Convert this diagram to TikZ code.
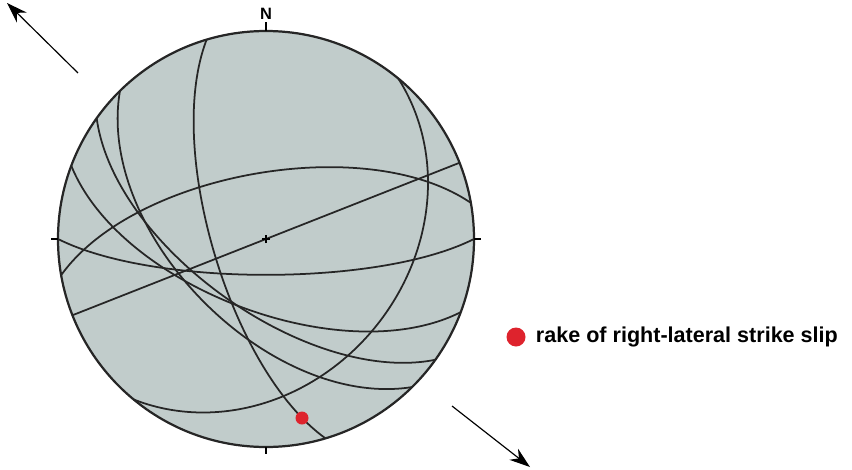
\documentclass[tikz,border=0pt]{standalone}
\usepackage{fontspec}
\setmainfont{Liberation Sans}
\usetikzlibrary{arrows.meta,positioning}
\definecolor{netgrey}{RGB}{193,204,203}
\definecolor{rakered}{RGB}{222,35,45}
\begin{document}
\begin{tikzpicture}[x=0.03cm,y=0.03cm,
    gc/.style={line width=1.5pt,black!85},
    rakedot/.style={circle,fill=rakered,inner sep=0pt,minimum size=0.39cm},
    stressarrow/.style={line width=1pt,-{Stealth[length=0.62cm,width=0.42cm,inset=0.2cm]}}]
    \useasboundingbox (-266,-230) rectangle (586,239);
    \fill[netgrey] (0,0) circle (208);
    \foreach \s/\d in {260/64, 163.4/69, 39.5/33, 135.4/55, 90/76, 110.6/61.5, 125.5/62, 68.5/90}
        \draw[gc,domain=0:180,samples=73,smooth,variable=\t]
            plot ({208*(cos(\t)*sin(\s)+sin(\t)*cos(\d)*cos(\s))/sqrt(1+sin(\t)*sin(\d))},
                  {208*(cos(\t)*cos(\s)-sin(\t)*cos(\d)*sin(\s))/sqrt(1+sin(\t)*sin(\d))});
    \draw[line width=1.9pt,black!85] (0,0) circle (208);
    \draw[line width=1.2pt] (0,208) -- (0,217);
    \draw[line width=1.2pt] (0,-208) -- (0,-215);
    \draw[line width=1.2pt] (-208,0) -- (-215,0);
    \draw[line width=1.2pt] (208,0) -- (215,0);
    \draw[line width=1.1pt] (-4,0) -- (4,0) (0,-4) -- (0,4);
    \node[anchor=base,font=\fontsize{14}{16}\selectfont\bfseries] (north) at (0,219) {N};
    \node[rakedot] (rake) at (36,-179) {};
    \coordinate (nwtail) at (-188,166);
    \coordinate (nwhead) at (-259,236);
    \coordinate (setail) at (186,-167);
    \coordinate (sehead) at (264,-228);
    \draw[stressarrow] (nwtail) -- (nwhead);
    \draw[stressarrow] (setail) -- (sehead);
    \node[rakedot,minimum size=0.57cm] (legdot) at (250,-98) {};
    \node[right=0.3cm of legdot,inner sep=0pt,font=\fontsize{18.4}{22}\selectfont\bfseries] (legtext) {rake of right-lateral strike slip};
\end{tikzpicture}
\end{document}
